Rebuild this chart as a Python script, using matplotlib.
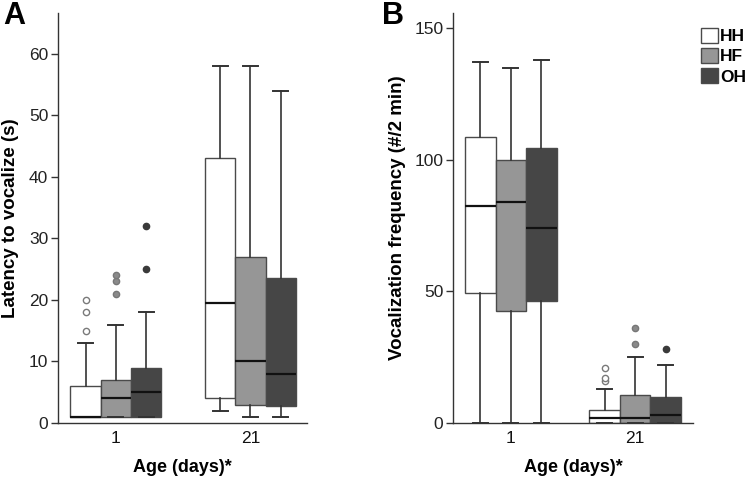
import matplotlib
matplotlib.use("Agg")
import matplotlib.pyplot as plt
from matplotlib.patches import Patch

plt.rcParams['font.family'] = ['Liberation Sans', 'DejaVu Sans']

# ---- data (rows: HH, HF, OH ; columns: day 1, day 21) ----
groups = ["1", "21"]
series = ["HH", "HF", "OH"]
colors = ["#ffffff", "#969696", "#464646"]

# Panel A: latency to vocalize (s)
lat_whislo = [[1, 2], [1, 1], [1, 1]]
lat_q1 = [[1, 4], [1, 3], [1, 2.8]]
lat_med = [[1, 19.5], [4, 10], [5, 8]]
lat_q3 = [[6, 43], [7, 27], [9, 23.5]]
lat_whishi = [[13, 58], [16, 58], [18, 54]]
lat_fliers = [[[15, 18, 20], []], [[21, 23, 24], []], [[25, 32], []]]

# Panel B: vocalization frequency (#/2 min)
voc_whislo = [[0, 0], [0, 0], [0, 0]]
voc_q1 = [[49.5, 0], [42.5, 0], [46.5, 0]]
voc_med = [[82.5, 2], [84, 2], [74, 3]]
voc_q3 = [[108.5, 5], [100, 10.5], [104.5, 10]]
voc_whishi = [[137, 13], [135, 25], [138, 22]]
voc_fliers = [[[], [16, 17, 21]], [[], [30, 36]], [[], [28]]]

flier_face = ["#ffffff", "#8a8a8a", "#3a3a3a"]
flier_edge = ["#7a7a7a", "#777777", "#3a3a3a"]

fig = plt.figure(figsize=(7.47, 4.78), dpi=100)
axA = fig.add_axes([58/747, 1-423/478, (307-58)/747, (423-13)/478])
axB = fig.add_axes([453/747, 1-423/478, (693-453)/747, (423-13)/478])


def draw(ax, whislo, q1, med, q3, whishi, fliers, width):
    for j in range(3):
        stats = []
        pos = []
        for g in range(2):
            stats.append(dict(whislo=whislo[j][g], q1=q1[j][g], med=med[j][g],
                              q3=q3[j][g], whishi=whishi[j][g],
                              fliers=fliers[j][g]))
            pos.append(g + (j - 1) * width)
        ax.bxp(stats, positions=pos, widths=width, patch_artist=True,
               showfliers=True, manage_ticks=False,
               boxprops=dict(facecolor=colors[j], edgecolor="#4a4a4a", linewidth=1.0),
               medianprops=dict(color="#111111", linewidth=1.6),
               whiskerprops=dict(color="#333333", linewidth=1.2),
               capprops=dict(color="#333333", linewidth=1.4),
               capwidths=width * 0.5,
               flierprops=dict(marker="o", markersize=4.5,
                               markerfacecolor=flier_face[j],
                               markeredgecolor=flier_edge[j],
                               markeredgewidth=1.0, linestyle="none"))
    ax.set_xticks(range(len(groups)))
    ax.set_xticklabels(groups)
    for s in ["top", "right"]:
        ax.spines[s].set_visible(False)
    for s in ["left", "bottom"]:
        ax.spines[s].set_color("#333333")
        ax.spines[s].set_linewidth(1.0)
    ax.tick_params(axis="x", length=0, pad=6, labelsize=12.5, colors="#111111")
    ax.tick_params(axis="y", length=5, width=1, color="#333333", pad=2,
                   labelsize=12.5, labelcolor="#222222")
    ax.set_xlabel("Age (days)*", fontsize=13, fontweight="bold", labelpad=9)


draw(axA, lat_whislo, lat_q1, lat_med, lat_q3, lat_whishi, lat_fliers, 0.225)
axA.set_xlim(-0.43, 1.42)
axA.set_ylim(0, 66.6)
axA.set_yticks([0, 10, 20, 30, 40, 50, 60])
axA.set_ylabel("Latency to vocalize (s)", fontsize=13.5, fontweight="bold", labelpad=7)

draw(axB, voc_whislo, voc_q1, voc_med, voc_q3, voc_whishi, voc_fliers, 0.245)
axB.set_xlim(-0.465, 1.465)
axB.set_ylim(0, 155.7)
axB.set_yticks([0, 50, 100, 150])
axB.set_ylabel("Vocalization frequency (#/2 min)", fontsize=13.5, fontweight="bold", labelpad=6)

fig.text(3/747, 1-1/478, "A", fontsize=22, fontweight="bold", va="top", ha="left")
fig.text(382/747, 1-1/478, "B", fontsize=22, fontweight="bold", va="top", ha="left")

handles = [Patch(facecolor=colors[j], edgecolor="#4a4a4a", linewidth=1.0, label=series[j])
           for j in range(3)]
leg = fig.legend(handles=handles, loc="upper right", bbox_to_anchor=(748/747, 1-26/478),
                 frameon=False, handlelength=0.95, handleheight=0.95,
                 handletextpad=0.15, labelspacing=0.22, borderaxespad=0,
                 borderpad=0.1, prop=dict(weight="bold", size=12.5))

fig.savefig("out.png", dpi=100)
